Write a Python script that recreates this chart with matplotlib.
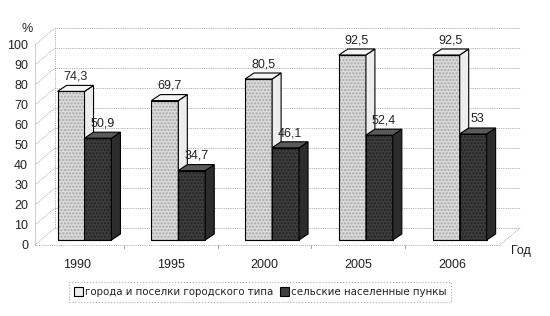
import numpy as np
import matplotlib
matplotlib.use('Agg')
import matplotlib.pyplot as plt
import matplotlib.transforms as mtransforms
from matplotlib.patches import Polygon, Patch

# data
years = ['1990', '1995', '2000', '2005', '2006']
urban = [74.3, 69.7, 80.5, 92.5, 92.5]
rural = [50.9, 34.7, 46.1, 52.4, 53.0]
series_names = ['города и поселки городского типа', 'сельские населенные пункы']
yticks = list(range(0, 101, 10))

plt.rcParams['font.family'] = ['Liberation Sans', 'DejaVu Sans']

fig = plt.figure(figsize=(5.5, 3.16), dpi=100)
ax = fig.add_axes([0.0636, 0.2247, 0.8455, 0.6329])
xmin, xmax = -0.448, 4.51
ax.set_xlim(xmin, xmax)
ax.set_ylim(0, 100)
for s in ax.spines.values():
    s.set_visible(False)

# depth of the "3d" box and of the bars (data units)
wdx, wdy = 0.213, 8.5
bdx, bdy = 0.096, 3.0
grid_kw = dict(color='#9a9a9a', lw=0.6, ls=(0, (1, 1.2)), clip_on=False, zorder=1)

for v in yticks:
    ax.plot([xmin, xmin + wdx], [v, v + wdy], **grid_kw)
    ax.plot([xmin + wdx, xmax + wdx], [v + wdy, v + wdy], **grid_kw)
ax.plot([xmin + wdx] * 2, [wdy, 100 + wdy], **grid_kw)
ax.plot([xmin, xmin], [0, 100], color='#c8c8c8', lw=0.6, clip_on=False, zorder=1)
ax.plot([xmin, xmax], [0, 0], **grid_kw)
ax.plot([xmax, xmax + wdx], [0, wdy], **grid_kw)
for b in np.arange(0.5, 4, 1.0):
    ax.plot([b, b], [0, -1.5], color='#9a9a9a', lw=0.6, clip_on=False, zorder=1)

# bars sit a little behind the front edge
shift = ax.transData + mtransforms.ScaledTranslation(0.05, 0.05, fig.dpi_scale_trans)

x = np.arange(len(years))
w = 0.288
styles = [
    dict(pos=-0.117, front='#dadada', hatch_c='#a8a8a8', side='#ededed', top='#f4f4f4', z=3),
    dict(pos=0.17, front='#3e3e3e', hatch_c='#202020', side='#2c2c2c', top='#5a5a5a', z=4),
]
for vals, st in zip([urban, rural], styles):
    xs = x + st['pos']
    ax.bar(xs, vals, w, color=st['front'], edgecolor=st['hatch_c'], hatch='.....',
           linewidth=0, transform=shift, zorder=st['z'])
    ax.bar(xs, vals, w, fill=False, edgecolor='black', linewidth=0.8,
           transform=shift, zorder=st['z'])
    for xc, v in zip(xs, vals):
        l, r = xc - w / 2, xc + w / 2
        side = Polygon([(r, 0), (r, v), (r + bdx, v + bdy), (r + bdx, bdy)],
                       facecolor=st['side'], edgecolor='black', lw=0.8,
                       transform=shift, zorder=st['z'])
        top = Polygon([(l, v), (r, v), (r + bdx, v + bdy), (l + bdx, v + bdy)],
                      facecolor=st['top'], edgecolor='black', lw=0.8,
                      transform=shift, zorder=st['z'])
        ax.add_patch(side)
        ax.add_patch(top)
        ax.annotate(f'{v:g}'.replace('.', ','), (xc + bdx / 2, v + bdy),
                    xycoords=shift, xytext=(0, 2), textcoords='offset points',
                    ha='center', va='bottom', fontsize=9, color='#222222',
                    zorder=6)

ax.set_yticks(yticks)
ax.set_yticklabels([str(t) for t in yticks], fontsize=9, color='#222222')
ax.set_xticks(x)
ax.set_xticklabels(years, fontsize=9, color='#222222')
ax.tick_params(axis='y', length=0, pad=5)
ax.tick_params(axis='x', length=0, pad=10)

ax.text(-0.533, 108, '%', ha='center', va='center', fontsize=9, color='#222222')
ax.text(4.73, -3, 'Год', ha='center', va='center', fontsize=9, color='#222222')

handles = [Patch(facecolor='#eeeeee', edgecolor='black', lw=0.8),
           Patch(facecolor=styles[1]['front'], edgecolor='black', lw=0.8)]
leg = fig.legend(handles, series_names, loc='center', bbox_to_anchor=(0.473, 0.076),
                 ncol=2, frameon=True, fancybox=False,
                 prop=dict(family='DejaVu Sans', size=7.4),
                 handlelength=0.9, handleheight=0.9, handletextpad=0.2,
                 columnspacing=0.6, borderpad=0.45)
for t in leg.get_texts():
    t.set_color('#222222')
leg.get_frame().set_edgecolor('#999999')
leg.get_frame().set_linestyle(':')
leg.get_frame().set_linewidth(0.8)

fig.savefig('out.png', dpi=100)
